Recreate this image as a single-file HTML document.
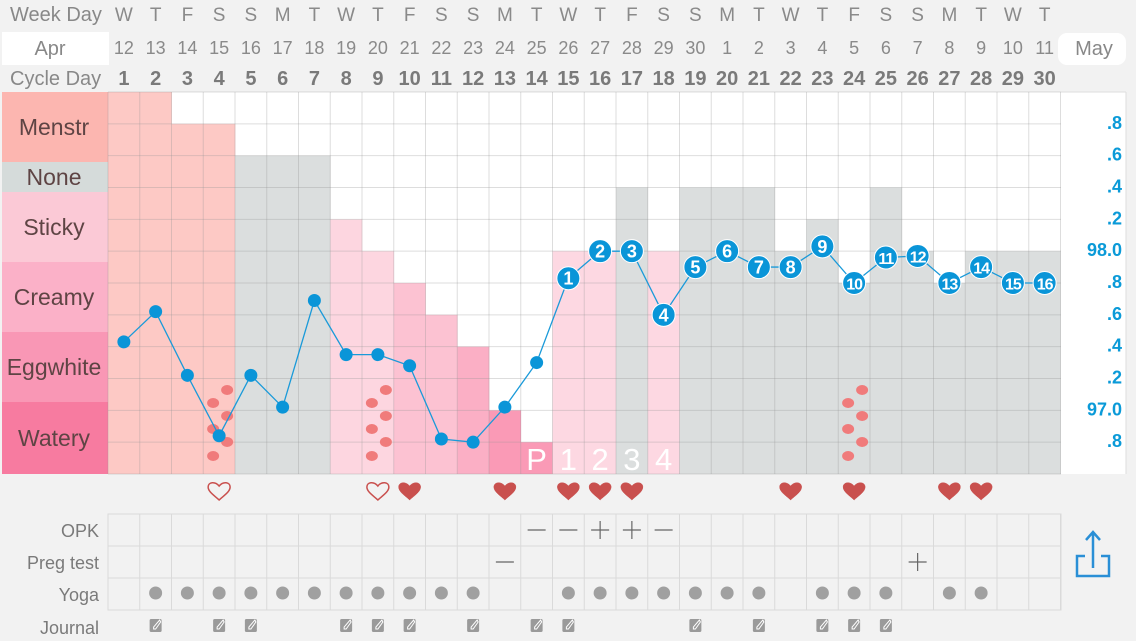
<!DOCTYPE html>
<html><head><meta charset="utf-8"><style>
html,body{margin:0;padding:0;background:#f2f2f2;}
svg{display:block;font-family:"Liberation Sans",sans-serif;}
</style></head><body>
<svg id="chart" width="1136" height="641" viewBox="0 0 1136 641" xmlns="http://www.w3.org/2000/svg">
<rect x="0" y="0" width="1136" height="641" fill="#f2f2f2"/>
<g id="hdr"></g>
<rect x="2" y="32" width="107" height="33" fill="#fff"/>
<text x="50" y="55" font-size="20" fill="#888" text-anchor="middle">Apr</text>
<rect x="1058" y="33" width="68" height="32" rx="9" fill="#fff"/>
<text x="1094" y="55" font-size="20" fill="#888" text-anchor="middle">May</text>
<text x="10" y="21" font-size="20" fill="#888">Week Day</text>
<text x="10" y="85" font-size="20" fill="#888">Cycle Day</text>
<rect x="108" y="92" width="1018" height="382" fill="#fff"/>
<g id="labels"></g>
<g id="bars"></g>
<g id="grid"></g>
<g id="spots"></g>
<g id="line"></g>
<g id="yaxis"></g>
<g id="hearts"></g>
<g id="table"></g>
<g fill="none" stroke="#2a8fd6" stroke-width="2.5">
<path d="M1085 556 H1077 V576 H1109 V556 H1101"/>
<path d="M1093 568 V532 M1086 540 L1093 532 L1100 540"/>
</g>
</svg>
<script>
const NS="http://www.w3.org/2000/svg";
const weekDays=["W","T","F","S","S","M","T","W","T","F","S","S","M","T","W","T","F","S","S","M","T","W","T","F","S","S","M","T","W","T"];
const dates=["12","13","14","15","16","17","18","19","20","21","22","23","24","25","26","27","28","29","30","1","2","3","4","5","6","7","8","9","10","11"];
const temps=[97.43,97.62,97.22,96.84,97.22,97.02,97.69,97.35,97.35,97.28,96.82,96.8,97.02,97.3,97.83,98.0,98.0,97.6,97.9,98.0,97.9,97.9,98.03,97.8,97.96,97.97,97.8,97.9,97.8,97.8];
const fluidLevel=[12,12,11,11,10,10,10,8,7,6,5,4,2,1,7,7,9,7,9,9,9,7,8,6,9,7,6,7,7,7];
const fluidType=["M","M","M","M","N","N","N","S","S","C","C","E","W","W","L","L","N","L","N","N","N","N","N","N","N","N","N","N","N","N"];
const yTicks=[98.8,98.6,98.4,98.2,98.0,97.8,97.6,97.4,97.2,97.0,96.8];
const yTickLabels=[".8",".6",".4",".2","98.0",".8",".6",".4",".2","97.0",".8"];
const heartDays=[4,9,10,13,15,16,17,22,24,27,28];
const heartFilled=[false,false,true,true,true,true,true,true,true,true,true];
const spotDays=[4,9,24];
const opkDays=[14,15,16,17,18];
const opkVals=["—","—","+","+","—"];
const pregDays=[13,26];
const pregVals=["—","+"];
const yogaDays=[2,3,4,5,6,7,8,9,10,11,12,15,16,17,18,19,20,21,23,24,25,27,28];
const journalDays=[2,4,5,8,9,10,12,14,15,19,21,23,24,25];
const postLabels=["P","1","2","3","4"];

const X0=108,CW=31.75,Y0=92,YB=474,RH=31.833;
const xc=d=>X0+CW*(d-0.5);
const yT=t=>Y0+(99.0-t)/0.2*RH;
const colors={M:"#fdc9c5",N:"#dbdede",S:"#fdd6e0",C:"#fcc2d2",E:"#fbafc5",W:"#fa9ab6",L:"#fdd8e2"};
function el(tag,attrs,parent,txt){const e=document.createElementNS(NS,tag);for(const k in attrs)e.setAttribute(k,attrs[k]);if(txt!==undefined)e.textContent=txt;document.getElementById(parent).appendChild(e);return e;}

weekDays.forEach((w,i)=>{const t=el("text",{x:xc(i+1),y:21,"font-size":19,fill:"#8a8a8a","text-anchor":"middle"},"hdr",w);

});
dates.forEach((w,i)=>{const t=el("text",{x:xc(i+1),y:54,"font-size":18,fill:"#8a8a8a","text-anchor":"middle"},"hdr",w);

});
for(let i=1;i<=30;i++){const t=el("text",{x:xc(i),y:85,"font-size":20,"font-weight":"bold",fill:"#7a7a7a","text-anchor":"middle"},"hdr",String(i));

}

const bands=[["Menstr",92,162,"#fcb6b0"],["None",162,192,"#d5dbda"],["Sticky",192,262,"#fbc9d6"],["Creamy",262,332,"#fbb1c8"],["Eggwhite",332,402,"#f997b5"],["Watery",402,474,"#f77ba0"]];
bands.forEach(b=>{const r=el("rect",{x:2,y:b[1],width:106,height:b[2]-b[1],fill:b[3]},"labels");


const t=el("text",{x:54,y:(b[1]+b[2])/2+8,"font-size":23,fill:"#5e4444","text-anchor":"middle"},"labels",b[0]);

});

fluidLevel.forEach((h,i)=>{const r=el("rect",{x:X0+CW*i,y:YB-h*RH,width:CW+0.3,height:h*RH,fill:colors[fluidType[i]]},"bars");

});
postLabels.forEach((p,i)=>{const t=el("text",{x:xc(14+i),y:470,"font-size":31,fill:"#fff","text-anchor":"middle"},"bars",p);

});

for(let k=0;k<=12;k++){el("line",{x1:X0,x2:1061,y1:Y0+k*RH,y2:Y0+k*RH,stroke:"rgba(150,150,150,0.32)","stroke-width":1},"grid");}
for(let i=0;i<=30;i++){el("line",{x1:X0+CW*i,x2:X0+CW*i,y1:Y0,y2:YB,stroke:"rgba(150,150,150,0.32)","stroke-width":1},"grid");}
el("line",{x1:1126,x2:1126,y1:Y0,y2:YB,stroke:"#ddd"},"grid");
el("line",{x1:1061,x2:1126,y1:Y0,y2:Y0,stroke:"#ddd"},"grid");

const spotOff=[[8,0],[-6,13],[8,26],[-6,39],[8,52],[-6,66]];
spotDays.forEach(d=>{spotOff.forEach(o=>{const e=el("ellipse",{cx:xc(d)+o[0],cy:390+o[1],rx:6,ry:5,fill:"#f07b7b"},"spots");

});});

const pts=temps.map((t,i)=>[xc(i+1),yT(t)]);
const pl=el("polyline",{points:pts.map(p=>p.join(",")).join(" "),fill:"none",stroke:"#1a9ad9","stroke-width":1.3},"line");


pts.forEach((p,i)=>{
 if(i<14){const c=el("circle",{cx:p[0],cy:p[1],r:6.5,fill:"#0a95d8"},"line");
 
 }
 else{const c=el("circle",{cx:p[0],cy:p[1],r:11.5,fill:"#0a95d8",stroke:"#fff","stroke-width":1},"line");
 
 
 const n=i-13;const t=el("text",{x:p[0],y:p[1]+6.5,"font-size":n>9?16:18,"font-weight":"bold",fill:"#fff","text-anchor":"middle","letter-spacing":n>9?-1:0},"line",String(n));
 
 }
});

yTicks.forEach((v,i)=>{const t=el("text",{x:1122,y:yT(v)+5,"font-size":18,"font-weight":"bold",fill:"#0a9ad8","text-anchor":"end"},"yaxis",yTickLabels[i]);

});

heartDays.forEach((d,i)=>{const cx=xc(d),cy=491;
 const path=`M${cx} ${cy+9} C${cx-4} ${cy+5} ${cx-11} ${cy+1} ${cx-11} ${cy-4} C${cx-11} ${cy-9} ${cx-4} ${cy-10} ${cx} ${cy-5} C${cx+4} ${cy-10} ${cx+11} ${cy-9} ${cx+11} ${cy-4} C${cx+11} ${cy+1} ${cx+4} ${cy+5} ${cx} ${cy+9} Z`;
 const h=el("path",{d:path,fill:heartFilled[i]?"#c9504e":"none",stroke:"#c9504e","stroke-width":heartFilled[i]?0.5:1.5},"hearts");
 
 });

const TY=[514,546,578,610];
el("rect",{x:X0,y:514,width:953,height:96,fill:"none",stroke:"#dadada"},"table");
TY.forEach(y=>el("line",{x1:X0,x2:1061,y1:y,y2:y,stroke:"#dadada"},"table"));
for(let i=0;i<=30;i++)el("line",{x1:X0+CW*i,x2:X0+CW*i,y1:514,y2:610,stroke:"#dadada"},"table");
[["OPK",537],["Preg test",569],["Yoga",601],["Journal",634]].forEach(r=>{const t=el("text",{x:99,y:r[1],"font-size":18,fill:"#7a7a7a","text-anchor":"end"},"table",r[0]);

});
function mark(d,v,cy){const x=xc(d);
 el("line",{x1:x-9,x2:x+9,y1:cy,y2:cy,stroke:"#666","stroke-width":1.2},"table");
 if(v==="+")el("line",{x1:x,x2:x,y1:cy-9,y2:cy+9,stroke:"#666","stroke-width":1.2},"table");}
opkDays.forEach((d,i)=>mark(d,opkVals[i],530));
pregDays.forEach((d,i)=>mark(d,pregVals[i],562));
yogaDays.forEach(d=>{const c=el("circle",{cx:xc(d),cy:593,r:6.5,fill:"#a0a0a0"},"table");

});
journalDays.forEach(d=>{const x=xc(d);
 const r=el("rect",{x:x-6,y:619,width:12,height:13,rx:1.5,fill:"#9a9a9a"},"table");
 
 
 el("path",{d:`M${x-2} ${629} L${x-2} ${627} L${x+4} ${620} L${x+5} ${622} L${x} ${629} Z`,fill:"none",stroke:"#fff","stroke-width":1},"table");});
</script>
</body></html>
